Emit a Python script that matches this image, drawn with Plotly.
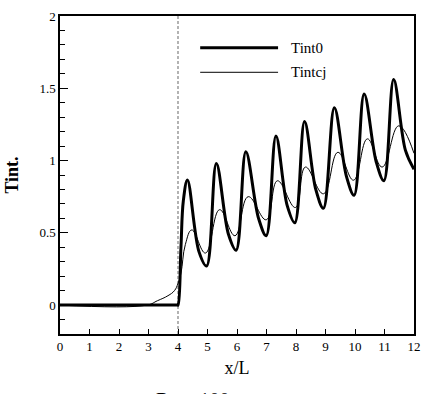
import plotly.graph_objects as go

# Tint0 (thick line): flat part, rise, then peaks/troughs
x_tint0 = [0.0, 3.97, 4.0, 4.1, 4.18, 4.32, 4.71, 4.97, 5.30, 5.71, 5.97, 6.30,
           6.73, 6.99, 7.32, 7.70, 7.96, 8.29, 8.67, 8.93, 9.30, 9.71, 9.97, 10.31,
           10.72, 10.98, 11.31, 11.71, 12.0]
y_tint0 = [0.0, 0.0, 0.0, 0.40, 0.72, 0.866, 0.37, 0.27, 0.98, 0.49, 0.38, 1.06,
           0.60, 0.48, 1.17, 0.69, 0.57, 1.27, 0.80, 0.67, 1.365, 0.89, 0.76, 1.46,
           0.99, 0.86, 1.56, 1.07, 0.94]

# Tintcj (thin line)
x_tintcj = [0.0, 2.95, 3.3, 3.66, 3.88, 4.0, 4.1, 4.25, 4.47, 4.93, 5.41, 5.93, 6.38,
            6.99, 7.37, 7.98, 8.32, 8.93, 9.42, 9.95, 10.42, 10.92, 11.48, 12.0]
y_tintcj = [0.0, 0.0, 0.03, 0.065, 0.10, 0.15, 0.22, 0.42, 0.52, 0.36, 0.66, 0.48, 0.75,
            0.59, 0.86, 0.675, 0.955, 0.77, 1.057, 0.864, 1.15, 0.955, 1.24, 1.05]

series_names = ["Tint0", "Tintcj"]
x_ticks = list(range(0, 13))
y_ticks = [0, 0.5, 1, 1.5, 2]
y_tick_text = ["0", "0.5", "1", "1.5", "2"]
x_marker = 4.0

FONT = "Liberation Serif, Times New Roman, serif"

fig = go.Figure()
fig.add_trace(go.Scatter(x=x_tint0, y=y_tint0, mode="lines", name=series_names[0],
                         line=dict(color="black", width=3, shape="spline", smoothing=1.0),
                         showlegend=False))
fig.add_trace(go.Scatter(x=x_tintcj, y=y_tintcj, mode="lines", name=series_names[1],
                         line=dict(color="black", width=1, shape="spline", smoothing=1.2),
                         showlegend=False))

# vertical dashed marker
fig.add_shape(type="line", x0=x_marker, x1=x_marker, y0=0, y1=1, xref="x", yref="paper",
              line=dict(color="#808080", width=1.2, dash="3px,2px"), layer="below")

# manual legend
leg_y = [0.90, 0.823]
leg_w = [3, 1]
for name, yy, w in zip(series_names, leg_y, leg_w):
    fig.add_shape(type="line", x0=0.396, x1=0.616, y0=yy, y1=yy, xref="paper", yref="paper",
                  line=dict(color="black", width=w))
    fig.add_annotation(x=0.646, y=yy, xref="paper", yref="paper", text=name,
                       showarrow=False, xanchor="left", yanchor="middle",
                       font=dict(family=FONT, size=15, color="black"))

fig.add_annotation(x=0.377, y=-0.168, xref="paper", yref="paper", text="Re = 100",
                   showarrow=False, xanchor="center", yanchor="top",
                   font=dict(family=FONT, size=20, color="black"))

fig.update_layout(
    width=430, height=394,
    margin=dict(l=60, r=9, t=12, b=60),
    paper_bgcolor="white", plot_bgcolor="white",
    font=dict(family=FONT, size=13, color="black"),
    xaxis=dict(range=[0, 12], tickvals=x_ticks, ticks="inside", ticklen=5, tickwidth=1,
               tickcolor="black", showline=True, linecolor="black", linewidth=1.5,
               mirror=True, showgrid=False, zeroline=False,
               title=dict(text="x/L", font=dict(family=FONT, size=18), standoff=8),
               tickfont=dict(family=FONT, size=13)),
    yaxis=dict(range=[-0.2, 2], tickvals=y_ticks, ticktext=y_tick_text, ticks="inside",
               ticklen=8, tickwidth=1, tickcolor="black", showline=True, linecolor="black",
               linewidth=1.5, mirror=True, showgrid=False, zeroline=False,
               minor=dict(dtick=0.1, ticks="inside", ticklen=5, tickcolor="black", showgrid=False),
               title=dict(text="<b>Tint.</b>", font=dict(family=FONT, size=18), standoff=16),
               tickfont=dict(family=FONT, size=13)),
)

fig.write_html("out.html")
